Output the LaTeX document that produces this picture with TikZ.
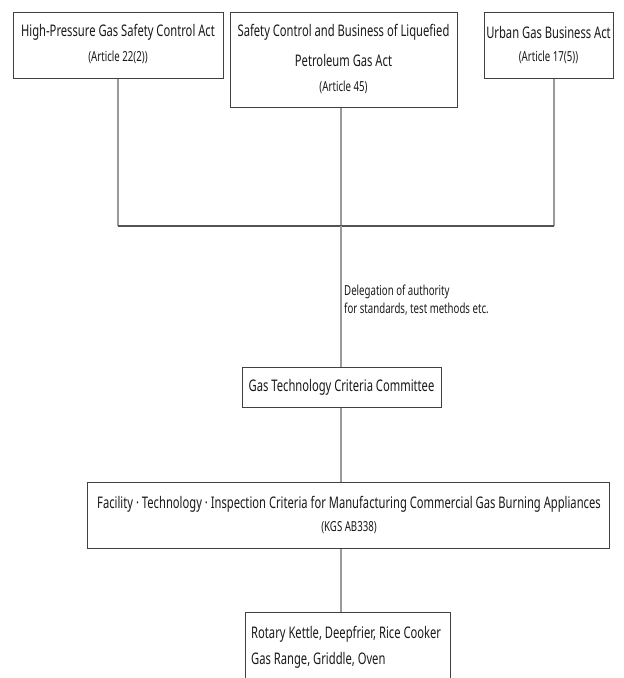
\documentclass[tikz,border=0pt]{standalone}
\usepackage{fontspec}
\setmainfont[FakeStretch=0.70]{Noto Sans}
\begin{document}
\begin{tikzpicture}[x=1pt,y=-1pt,
  box/.style={draw=boxgray,line width=1.2pt,fill=white,inner sep=0pt,anchor=north west},
  big/.style={font=\fontsize{16}{19}\selectfont,text=txt,inner sep=0pt},
  small/.style={font=\fontsize{13.8}{16}\selectfont,text=txt,inner sep=0pt},
  vline/.style={draw=linegray,line width=1.3pt},
  hline/.style={draw=boxgray!90,line width=1.3pt}]
\definecolor{boxgray}{HTML}{404040}
\definecolor{linegray}{HTML}{9A9A9A}
\definecolor{txt}{HTML}{1A1A1A}
\useasboundingbox (0,0) rectangle (624,678);
\begin{scope}
\clip (0,0) rectangle (624,678);

% law boxes
\node[box,minimum width=210pt,minimum height=66pt] (lawA) at (13,12) {};
\node[box,minimum width=227pt,minimum height=95pt] (lawB) at (230,12) {};
\node[box,minimum width=129pt,minimum height=66pt] (lawC) at (484,12) {};
\node[big]   (lawAt) at (118,32) {High-Pressure Gas Safety Control Act};
\node[small] (lawAa) at (118,57) {(Article 22(2))};
\node[big]   (lawBt) at (343.5,32) {Safety Control and Business of Liquefied};
\node[big]   (lawBu) at (343.5,60) {Petroleum Gas Act};
\node[small] (lawBa) at (343.5,87) {(Article 45)};
\node[big]   (lawCt) at (548.5,32) {Urban Gas Business Act};
\node[small] (lawCa) at (548.5,57) {(Article 17(5))};

% committee and criteria
\node[box,minimum width=199pt,minimum height=40pt] (comm) at (242,367) {};
\node[big] (commt) at (341.5,387) {Gas Technology Criteria Committee};
\node[box,minimum width=522pt,minimum height=66pt] (crit) at (87,482) {};
\node[big]   (critt) at (349,504) {Facility · Technology · Inspection Criteria for Manufacturing Commercial Gas Burning Appliances};
\node[small] (crita) at (349,528) {(KGS AB338)};

% appliances
\node[box,minimum width=205pt,minimum height=90pt] (appl) at (245,612) {};
\node[big,anchor=west] (applt) at (251,634) {Rotary Kettle, Deepfrier, Rice Cooker};
\node[big,anchor=west] (applu) at (251,660) {Gas Range, Griddle, Oven};

% connector coordinates
\coordinate (jA) at (118,226);
\coordinate (jB) at (341,226);
\coordinate (jC) at (554,226);

\draw[vline] (lawA.south -| jA) -- (jA);
\draw[vline] (lawB.south -| jB) -- (jB);
\draw[vline] (lawC.south -| jC) -- (jC);
\draw[hline] (jA) -- (jC);
\draw[vline] (jB) -- (comm.north -| jB);
\draw[vline] (comm.south -| jB) -- (crit.north -| jB);
\draw[vline] (crit.south -| jB) -- (appl.north -| jB);

\node[font=\fontsize{13.8}{18}\selectfont,text=txt,align=left,anchor=north west,inner sep=0pt] (deleg) at (344,285)
  {Delegation of authority\\for standards, test methods etc.};
\end{scope}
\end{tikzpicture}
\end{document}
